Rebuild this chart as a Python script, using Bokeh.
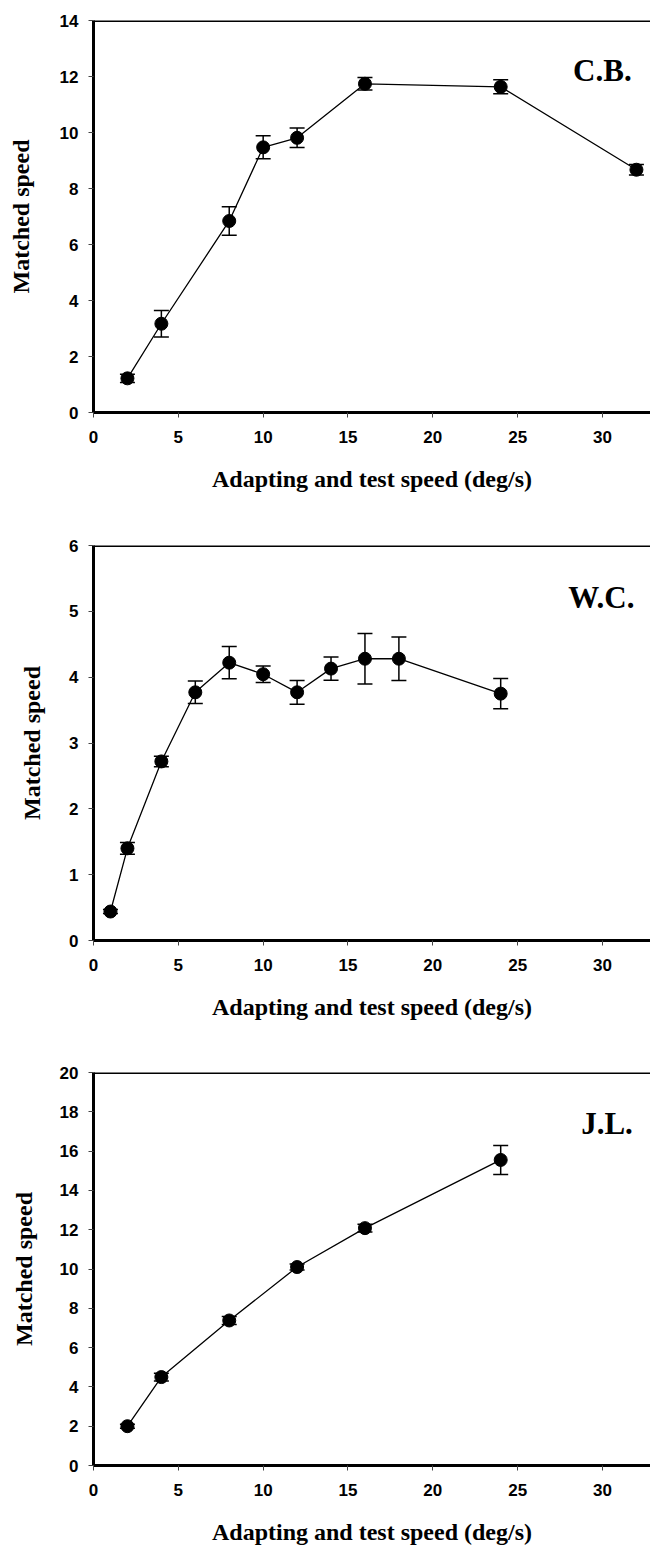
from bokeh.plotting import figure
from bokeh.models import Range1d, FixedTicker, Whisker, TeeHead, ColumnDataSource, Span, Label
from bokeh.layouts import column
from bokeh.embed import file_html
from bokeh.resources import INLINE

# ---- data ----
x_ticks = [0, 5, 10, 15, 20, 25, 30]

cb_x = [2, 4, 8, 10, 12, 16, 24, 32]
cb_y = [1.22, 3.17, 6.84, 9.47, 9.81, 11.74, 11.63, 8.67]
cb_err = [0.15, 0.47, 0.51, 0.41, 0.35, 0.22, 0.25, 0.19]
cb_yticks = [0, 2, 4, 6, 8, 10, 12, 14]

wc_x = [1, 2, 4, 6, 8, 10, 12, 14, 16, 18, 24]
wc_y = [0.44, 1.40, 2.72, 3.77, 4.22, 4.045, 3.77, 4.13, 4.28, 4.28, 3.75]
wc_err = [0.03, 0.09, 0.08, 0.17, 0.245, 0.125, 0.18, 0.175, 0.385, 0.33, 0.23]
wc_yticks = [0, 1, 2, 3, 4, 5, 6]

jl_x = [2, 4, 8, 12, 16, 24]
jl_y = [2.0, 4.5, 7.38, 10.1, 12.08, 15.55]
jl_err = [0.1, 0.2, 0.2, 0.15, 0.2, 0.74]
jl_yticks = [0, 2, 4, 6, 8, 10, 12, 14, 16, 18, 20]

panels = [
    dict(name="C.B.", x=cb_x, y=cb_y, err=cb_err, yticks=cb_yticks, ymax=14,
         height=510, top=20, left=93, lab_x=31.72, lab_y=12.21, ystand=23),
    dict(name="W.C.", x=wc_x, y=wc_y, err=wc_err, yticks=wc_yticks, ymax=6,
         height=530, top=35, left=91, lab_x=31.88, lab_y=5.21, ystand=21),
    dict(name="J.L.", x=jl_x, y=jl_y, err=jl_err, yticks=jl_yticks, ymax=20,
         height=507, top=32, left=90, lab_x=31.79, lab_y=17.41, ystand=20),
]
frame_h = [392, 395, 394]

X_END = 32.83
figs = []
for pnl, fh in zip(panels, frame_h):
    p = figure(width=650, height=pnl["height"], output_backend="svg", toolbar_location=None,
               x_range=Range1d(0, X_END), y_range=Range1d(0, pnl["ymax"]))
    p.min_border_top = pnl["top"]
    p.min_border_left = pnl["left"]
    p.min_border_right = 0
    p.min_border_bottom = pnl["height"] - pnl["top"] - fh
    p.outline_line_color = None
    p.grid.visible = False
    p.background_fill_color = "white"
    p.border_fill_color = "white"

    for ax in (p.xaxis[0], p.yaxis[0]):
        ax.axis_line_width = 3
        ax.axis_line_color = "black"
        ax.major_tick_in = 0
        ax.major_tick_out = 5
        ax.major_tick_line_color = "#444444"
        ax.major_tick_line_width = 1
        ax.minor_tick_line_color = None
        ax.major_label_text_font = "Liberation Sans"
        ax.major_label_text_font_style = "bold"
        ax.major_label_text_font_size = "17px"
        ax.major_label_text_color = "black"
        ax.major_label_standoff = 10
        ax.axis_label_text_font = "Liberation Serif"
        ax.axis_label_text_font_style = "bold"
        ax.axis_label_text_font_size = "24px"
        ax.axis_label_text_color = "black"
    p.xaxis[0].major_label_standoff = 13
    p.xaxis[0].ticker = FixedTicker(ticks=x_ticks)
    p.yaxis[0].ticker = FixedTicker(ticks=pnl["yticks"])
    p.xaxis[0].axis_label = "Adapting and test speed (deg/s)"
    p.yaxis[0].axis_label = "Matched speed"
    p.xaxis[0].axis_label_standoff = 20
    p.yaxis[0].axis_label_standoff = pnl["ystand"]

    p.add_layout(Span(location=pnl["ymax"], dimension="width", line_color="black", line_width=3))

    lower = [v - e for v, e in zip(pnl["y"], pnl["err"])]
    upper = [v + e for v, e in zip(pnl["y"], pnl["err"])]
    src = ColumnDataSource(dict(x=pnl["x"], y=pnl["y"], lower=lower, upper=upper))
    p.line("x", "y", source=src, line_color="black", line_width=1.3)
    w = Whisker(base="x", lower="lower", upper="upper", source=src,
                line_color="black", line_width=1.5,
                upper_head=TeeHead(size=15, line_color="black", line_width=1.5),
                lower_head=TeeHead(size=15, line_color="black", line_width=1.5))
    p.add_layout(w)
    p.scatter("x", "y", source=src, size=13, marker="circle", fill_color="black", line_color="black")

    p.add_layout(Label(x=pnl["lab_x"], y=pnl["lab_y"], text=pnl["name"], text_align="right",
                       text_baseline="alphabetic", text_font="Liberation Serif",
                       text_font_style="bold", text_font_size="31px", text_color="black"))
    figs.append(p)

layout = column(*figs, spacing=0)
open("out.html", "w").write(file_html(layout, INLINE))
